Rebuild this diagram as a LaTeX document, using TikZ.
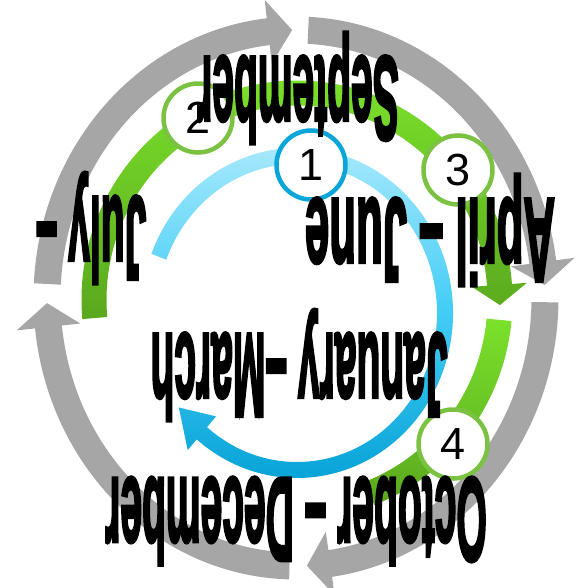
\documentclass[tikz,border=0pt]{standalone}
\usepackage{fontspec}
\setmainfont{Liberation Sans}
\newfontfamily\monthfont{Liberation Sans Bold}[FakeBold=3.5]
\definecolor{cyclegray}{HTML}{A6A6A6}
\definecolor{cyclegreenhi}{HTML}{7BE12B}
\definecolor{cyclegreenlo}{HTML}{5AA81E}
\definecolor{cyclebluehi}{HTML}{B3ECFD}
\definecolor{cyclebluemid}{HTML}{46CEF6}
\definecolor{cyclebluelo}{HTML}{06A2D6}
\definecolor{ringgreen}{HTML}{7CC242}
\definecolor{ringblue}{HTML}{0AA6DA}

% block arc with arrow head: options, rx, ry, half width, start, base, tip, head half width
\newcommand{\ringarrow}[8]{%
  \pgfmathsetmacro{\rxo}{#2+#4}\pgfmathsetmacro{\ryo}{#3+#4}%
  \pgfmathsetmacro{\rxi}{#2-#4}\pgfmathsetmacro{\ryi}{#3-#4}%
  \pgfmathsetmacro{\rxh}{#2+#8}\pgfmathsetmacro{\ryh}{#3+#8}%
  \pgfmathsetmacro{\rxk}{#2-#8}\pgfmathsetmacro{\ryk}{#3-#8}%
  \path[#1] ({\rxo*cos(#5)},{\ryo*sin(#5)})
    arc[start angle=#5, end angle=#6, x radius=\rxo, y radius=\ryo]
    -- ({\rxh*cos(#6)},{\ryh*sin(#6)}) -- ({#2*cos(#7)},{#3*sin(#7)})
    -- ({\rxk*cos(#6)},{\ryk*sin(#6)}) -- ({\rxi*cos(#6)},{\ryi*sin(#6)})
    arc[start angle=#6, end angle=#5, x radius=\rxi, y radius=\ryi] -- cycle;}

\begin{document}
\begin{tikzpicture}[
  x=1pt, y=-1pt,
  monthlabel/.style={font=\monthfont\fontsize{39}{39}\selectfont, inner sep=0pt, xscale=-1, yscale=-3.05},
  numcircle/.style={circle, draw=#1, line width=4.5pt, fill=white, minimum size=69pt, inner sep=0pt, font=\fontsize{45}{45}\selectfont},
  numcircle/.default=ringgreen,
]
\fill[white] (0,0) rectangle (577,588);
\useasboundingbox (0,0) rectangle (577,588);

% outer gray cycle
\begin{scope}[shift={(296,298)}]
\foreach \s/\b/\t in {183/263.6/269.1, 272.8/352.3/357.2, 0.9/82.1/87.5, 91.5/173.8/178.9}
  {\ringarrow{fill=cyclegray}{249}{268}{13.5}{\s}{\b}{\t}{32}}
\end{scope}

% green cycle
\begin{scope}[shift={(297,300)}]
\ringarrow{top color=cyclegreenhi, bottom color=cyclegreenlo}{203}{207}{12.5}{175}{355.8}{361.4}{27.5}
\ringarrow{top color=cyclegreenhi, bottom color=cyclegreenlo}{203}{207}{12.5}{5.5}{69}{69}{12.5}
\end{scope}

% inner blue cycle
\begin{scope}[shift={(297,313)}]
\ringarrow{top color=cyclebluehi, bottom color=cyclebluelo, middle color=cyclebluemid}{148}{157}{8}{201}{490}{503}{22}
\end{scope}

\node[numcircle=ringblue] (c1) at (311,165) {1};
\node[numcircle] (c2) at (198,118) {2};
\node[numcircle] (c3) at (458,170) {3};
\node[numcircle] (c4) at (453,444) {4};

\node[monthlabel] (sept) at (298,88) {September};
\node[monthlabel, xscale=1.12] (aprjun) at (430,230) {April \textendash{} June};
\node[monthlabel] (julsep) at (91,228) {July \textendash};
\node[monthlabel] (janmar) at (299,365) {January \textendash March};
\node[monthlabel] (octdec) at (296,521) {October \textendash{} December};
\end{tikzpicture}
\end{document}
